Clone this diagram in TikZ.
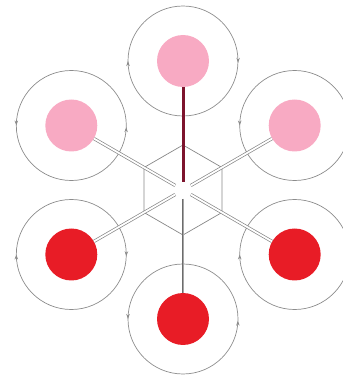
\documentclass[tikz,border=0pt]{standalone}
\usetikzlibrary{calc,decorations.markings,arrows.meta}
\definecolor{pinkdisk}{RGB}{248,170,195}
\definecolor{reddisk}{RGB}{232,28,38}
\definecolor{maroonline}{RGB}{125,20,45}
\definecolor{orbitgray}{RGB}{140,140,140}
\definecolor{hexgray}{RGB}{135,135,135}
\begin{document}
\begin{tikzpicture}[x=1pt,y=1pt,
  disk/.style={circle,inner sep=0pt,minimum size=52pt,draw=none},
  orbit/.style={draw=orbitgray,line width=0.7pt},
  ccw/.style={orbit,postaction={decorate},decoration={markings,
     mark=at position 0.5 with {\arrow{Stealth[length=5pt,width=3.5pt]}},
     mark=at position 0.995 with {\arrow{Stealth[length=5pt,width=3.5pt]}}}},
  cw/.style={orbit,postaction={decorate},decoration={markings,
     mark=at position 0.5 with {\arrowreversed{Stealth[length=5pt,width=3.5pt]}},
     mark=at position 0.995 with {\arrowreversed{Stealth[length=5pt,width=3.5pt]}}}},
  dbl/.style={draw=hexgray,double=white,line width=0.7pt,double distance=1.8pt},
  hexline/.style={draw=hexgray,line width=0.7pt}]
\useasboundingbox (0,0) rectangle (343,376);
\coordinate (c) at (183,186);
% hexagon
\draw[hexline] ($(c)+(90:45)$) -- ($(c)+(150:45)$) -- ($(c)+(210:45)$)
  -- ($(c)+(270:45)$) -- ($(c)+(330:45)$) -- ($(c)+(30:45)$) -- cycle;
% disks
\node[disk,fill=pinkdisk] (t)  at (183,315) {};
\node[disk,fill=pinkdisk] (ur) at (294.7,250.5) {};
\node[disk,fill=pinkdisk] (ul) at (71.3,250.5) {};
\node[disk,fill=reddisk]  (lr) at (294.7,121.5) {};
\node[disk,fill=reddisk]  (ll) at (71.3,121.5) {};
\node[disk,fill=reddisk]  (b)  at (183,57) {};
% orbits
\draw[cw]  (t)  circle (55pt);
\draw[ccw] (ur) circle (55pt);
\draw[cw]  (lr) circle (55pt);
\draw[ccw] (b)  circle (55pt);
\draw[cw]  (ll) circle (55pt);
\draw[ccw] (ul) circle (55pt);
% connectors
\draw[dbl] ($(c)!9pt!(ur)$) -- (ur);
\draw[dbl] ($(c)!9pt!(ul)$) -- (ul);
\draw[dbl] ($(c)!9pt!(lr)$) -- (lr);
\draw[dbl] ($(c)!9pt!(ll)$) -- (ll);
\draw[draw=gray!85!black,double=gray!70,line width=0.8pt,double distance=1pt] ($(c)!9pt!(b)$) -- (b);
\draw[maroonline,line width=3pt] ($(c)!8pt!(t)$) -- (t);
\end{tikzpicture}
\end{document}
